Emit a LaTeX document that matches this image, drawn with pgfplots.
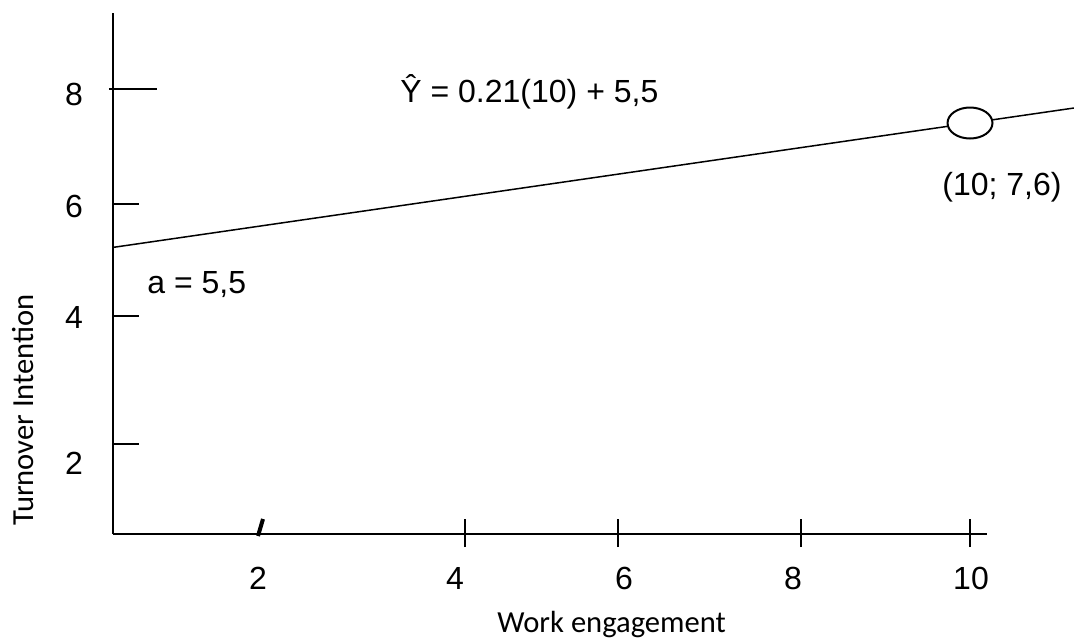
\documentclass[border=0pt]{standalone}
\usepackage{fontspec}
\setmainfont{Liberation Sans}
\newfontfamily\calibri{Carlito}
\usepackage{pgfplots}
\pgfplotsset{compat=1.18}
\begin{document}
\begin{tikzpicture}
\begin{axis}[
  x=0.5pt, y=0.5pt,
  xmin=113, xmax=987, ymin=105, ymax=626,
  axis x line=bottom, axis y line=left,
  axis line style={-, line width=0.9pt, black},
  clip=false,
  xtick={258,455,624,793,971},
  xticklabels={2,4,6,8,10},
  ytick={176,322,433,545},
  yticklabels={2,4,6,8},
  major tick length=0pt,
  tick style={draw=none},
  xticklabel style={anchor=center, yshift=-22pt, font=\fontsize{16}{19}\selectfont},
  yticklabel style={anchor=center, xshift=-19.5pt, font=\fontsize{16}{19}\selectfont},
]
% tick marks
\addplot[black, line width=1pt, mark=none] coordinates {(109,550) (157,550)};
\addplot[black, line width=1pt, mark=none] coordinates {(113,435) (139,435)};
\addplot[black, line width=1pt, mark=none] coordinates {(113,323) (139,323)};
\addplot[black, line width=1pt, mark=none] coordinates {(113,195) (139,195)};
\addplot[black, line width=2pt, mark=none] coordinates {(258,103) (263,120)};
\addplot[black, line width=1pt, mark=none] coordinates {(465,92) (465,120)};
\addplot[black, line width=1pt, mark=none] coordinates {(618,92) (618,120)};
\addplot[black, line width=1pt, mark=none] coordinates {(801,92) (801,120)};
\addplot[black, line width=1pt, mark=none] coordinates {(970,92) (970,120)};
% regression line
\addplot[black, line width=0.75pt, mark=none] coordinates {(113,391.6) (1074,531)};
% point marker (ellipse)
\addplot[only marks, mark=*, mark size=7.75pt,
  mark options={fill=white, draw=black, line width=1pt, xscale=1.45}] coordinates {(970,516)};
% texts
\node[anchor=base west, inner sep=0pt, font=\fontsize{16}{19}\selectfont] at (axis cs:400,537) {Ŷ = 0.21(10) + 5,5};
\node[anchor=base west, inner sep=0pt, font=\fontsize{16}{19}\selectfont] at (axis cs:147,346) {a = 5,5};
\node[anchor=base west, inner sep=0pt, font=\fontsize{16}{19}\selectfont] at (axis cs:942,444) {(10; 7,6)};
\node[rotate=90, anchor=center, inner sep=0pt, font=\calibri\fontsize{15.3}{18}\selectfont] at (axis cs:23,229) {Turnover Intention};
\node[anchor=base west, inner sep=0pt, font=\calibri\fontsize{15.3}{18}\selectfont] at (axis cs:497,7) {Work engagement};
\coordinate (bl) at (axis cs:0,0);
\coordinate (tr) at (axis cs:1074,639);
\end{axis}
\pgfresetboundingbox
\path[use as bounding box] (bl) rectangle (tr);
\end{tikzpicture}
\end{document}
